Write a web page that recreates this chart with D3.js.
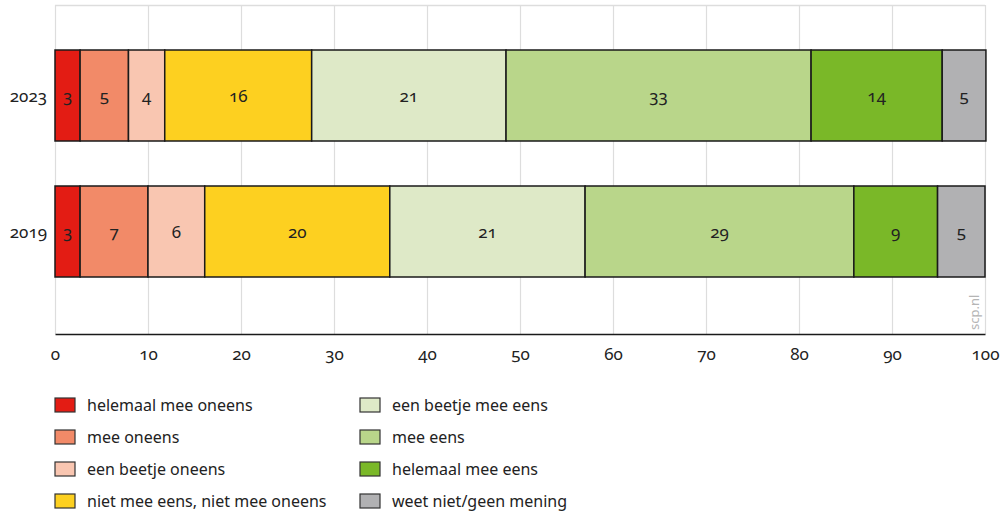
<!DOCTYPE html>
<html><head><meta charset="utf-8">
<script src="https://cdn.jsdelivr.net/npm/d3@7"></script>
<style>
body{margin:0;background:#fff;}
svg{font-family:"Noto Sans",sans-serif;font-variant-numeric:oldstyle-nums;font-feature-settings:"onum";}
</style></head><body>
<svg id="c" width="1000" height="518"></svg>
<script>
const years = ["2023","2019"];
const categories = ["helemaal mee oneens","mee oneens","een beetje oneens","niet mee eens, niet mee oneens","een beetje mee eens","mee eens","helemaal mee eens","weet niet/geen mening"];
const values2023 = [2.7,5.2,3.9,15.8,20.9,32.8,14.1,4.7];
const values2019 = [2.7,7.3,6.1,19.9,21.0,28.9,9.0,5.1];
const labels2023 = ["3","5","4","16","21","33","14","5"];
const labels2019 = ["3","7","6","20","21","29","9","5"];
const colors = ["#e31c14","#f28a68","#f9c6b1","#fdd020","#dee9c7","#b9d68a","#7ab828","#b1b1b3"];
const xTicks = [0,10,20,30,40,50,60,70,80,90,100];

const svg = d3.select("#c");
const x = d3.scaleLinear().domain([0,100]).range([55,985]);
const pad = 45/136;
const y = d3.scaleBand().domain(years).range([5,322]).paddingInner(pad).paddingOuter(pad);

// grid
svg.append("line").attr("x1",55).attr("x2",985).attr("y1",5.5).attr("y2",5.5).attr("stroke","#ddd").attr("stroke-width",1.5);
svg.selectAll(".grid").data(xTicks).join("line")
  .attr("x1",d=>Math.round(x(d))+0.5).attr("x2",d=>Math.round(x(d))+0.5)
  .attr("y1",5).attr("y2",334).attr("stroke","#ddd").attr("stroke-width",1.2);

const data = [{year:"2023",vals:values2023,labs:labels2023},{year:"2019",vals:values2019,labs:labels2019}];
data.forEach(row=>{
  let cum=0;
  const segs=row.vals.map((v,i)=>{const s={x0:cum,x1:cum+v,c:colors[i],l:row.labs[i]};cum+=v;return s;});
  const g=svg.append("g");
  g.selectAll("rect").data(segs).join("rect")
    .attr("x",d=>x(d.x0)).attr("width",d=>x(d.x1)-x(d.x0))
    .attr("y",y(row.year)).attr("height",y.bandwidth())
    .attr("fill",d=>d.c).attr("stroke","#1a1a1a").attr("stroke-width",1.5);
  g.selectAll("text").data(segs).join("text")
    .attr("x",d=>(x(d.x0)+x(d.x1))/2).attr("y",y(row.year)+y.bandwidth()/2)
    .attr("text-anchor","middle").attr("dominant-baseline","central")
    .attr("font-size",17).attr("fill","#222").text(d=>d.l);
  svg.append("text").attr("x",47).attr("y",y(row.year)+y.bandwidth()/2)
    .attr("text-anchor","end").attr("dominant-baseline","central")
    .attr("font-size",17).attr("fill","#222").text(row.year);
});

// axis
const ax = svg.append("g").attr("transform","translate(0,334)")
  .call(d3.axisBottom(x).tickValues(xTicks).tickSize(0).tickPadding(14).tickFormat(d3.format("d")));
ax.select(".domain").attr("stroke","#1a1a1a").attr("stroke-width",1.5);
ax.selectAll("text").attr("font-size",17).attr("fill","#222").attr("font-family","Noto Sans");

svg.append("text").attr("transform","translate(979,330) rotate(-90)")
  .attr("font-size",13).attr("fill","#b5b5b5").text("scp.nl");

// legend
const leg = svg.append("g");
categories.forEach((c,i)=>{
  const col=Math.floor(i/4), r=i%4;
  const lx = col===0?55:360, ly = 405 + r*32;
  leg.append("rect").attr("x",lx).attr("y",ly-7).attr("width",20).attr("height",14)
    .attr("fill",colors[i]).attr("stroke","#333").attr("stroke-width",1.2);
  leg.append("text").attr("x",lx+32).attr("y",ly).attr("dominant-baseline","central")
    .attr("font-size",16).attr("fill","#222").text(c);
});
</script></body></html>
